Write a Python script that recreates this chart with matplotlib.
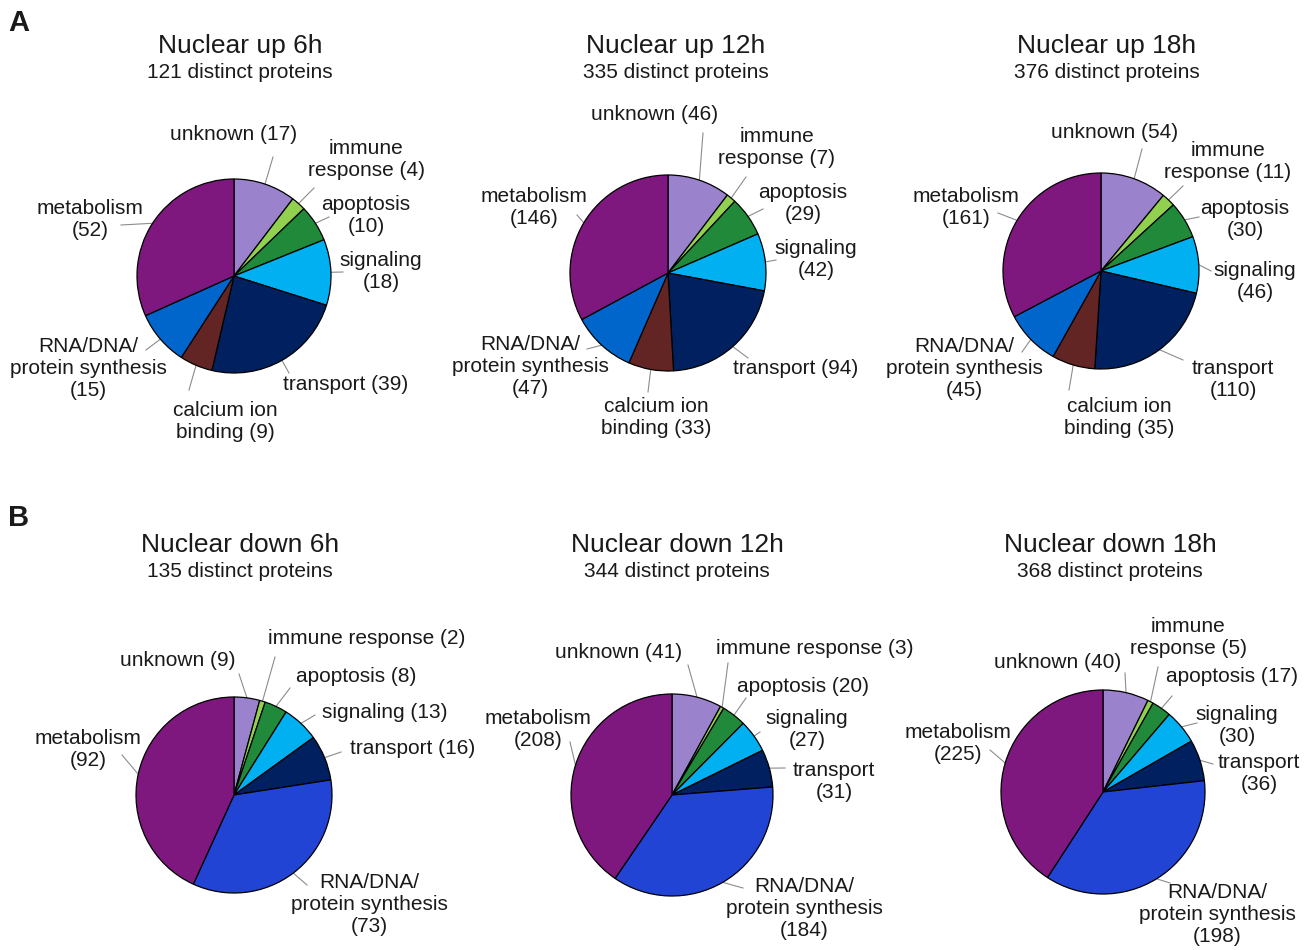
import numpy as np
import matplotlib
matplotlib.use("Agg")
import matplotlib.pyplot as plt

plt.rcParams['font.family'] = ['Liberation Sans', 'DejaVu Sans']

W, H = 1311, 950

# category colours
C_UNKNOWN = '#9b82cc'
C_IMMUNE = '#92d050'
C_APOP = '#218a3a'
C_SIGNAL = '#00b0f0'
C_TRANSPORT = '#002060'
C_CALCIUM = '#632424'
C_RNA_UP = '#0066cc'
C_RNA_DOWN = '#2244d4'
C_METAB = '#7e177e'

colors_up = [C_UNKNOWN, C_IMMUNE, C_APOP, C_SIGNAL, C_TRANSPORT, C_CALCIUM, C_RNA_UP, C_METAB]
colors_down = [C_UNKNOWN, C_IMMUNE, C_APOP, C_SIGNAL, C_TRANSPORT, C_RNA_DOWN, C_METAB]

# protein counts per functional category
up_6h = [17, 4, 10, 18, 39, 9, 15, 52]
up_12h = [46, 7, 29, 42, 94, 33, 47, 146]
up_18h = [54, 11, 30, 46, 110, 35, 45, 161]
down_6h = [9, 2, 8, 13, 16, 73, 92]
down_12h = [41, 3, 20, 27, 31, 184, 208]
down_18h = [40, 5, 17, 30, 36, 198, 225]

n_up = [121, 335, 376]
n_down = [135, 344, 368]
hours = ['6h', '12h', '18h']

# label text, one template per slice
lab_up_6h = ['unknown ({})', 'immune\nresponse ({})', 'apoptosis\n({})', 'signaling\n({})',
             'transport ({})', 'calcium ion\nbinding ({})', 'RNA/DNA/\nprotein synthesis\n({})',
             'metabolism\n({})']
lab_up_12h = ['unknown ({})', 'immune\nresponse ({})', 'apoptosis\n({})', 'signaling\n({})',
              'transport ({})', 'calcium ion\nbinding ({})', 'RNA/DNA/\nprotein synthesis\n({})',
              'metabolism\n({})']
lab_up_18h = ['unknown ({})', 'immune\nresponse ({})', 'apoptosis\n({})', 'signaling\n({})',
              'transport\n({})', 'calcium ion\nbinding ({})', 'RNA/DNA/\nprotein synthesis\n({})',
              'metabolism\n({})']
lab_down_6h = ['unknown ({})', 'immune response ({})', 'apoptosis ({})', 'signaling ({})',
               'transport ({})', 'RNA/DNA/\nprotein synthesis\n({})', 'metabolism\n({})']
lab_down_12h = ['unknown ({})', 'immune response ({})', 'apoptosis ({})', 'signaling\n({})',
                'transport\n({})', 'RNA/DNA/\nprotein synthesis\n({})', 'metabolism\n({})']
lab_down_18h = ['unknown ({})', 'immune\nresponse ({})', 'apoptosis ({})', 'signaling\n({})',
                'transport\n({})', 'RNA/DNA/\nprotein synthesis\n({})', 'metabolism\n({})']

# layout in pixels (y measured from top): pie centre, radius, label centres, leader ends
pies = [
    dict(vals=up_6h, cols=colors_up, labs=lab_up_6h, c=(234, 276), r=97,
         txt=[(234, 134), (366, 159), (366, 216), (381, 272), (346, 385), (225, 421), (88, 369), (90, 220)],
         end=[(273, 157), (314, 188), (329, 217), (343, 272), (289, 373), (189, 390), (146, 350), (121, 225)]),
    dict(vals=up_12h, cols=colors_up, labs=lab_up_12h, c=(668, 273), r=98,
         txt=[(655, 115), (777, 147), (803, 204), (816, 260), (796, 368), (656, 418), (530, 366), (534, 208)],
         end=[(703, 133), (746, 177), (763, 209), (776, 260), (748, 358), (648, 392), (587, 349), (577, 215)]),
    dict(vals=up_18h, cols=colors_up, labs=lab_up_18h, c=(1101, 271), r=98,
         txt=[(1115, 132), (1228, 161), (1245, 219), (1255, 281), (1233, 379), (1119, 418), (964, 369), (966, 208)],
         end=[(1142, 149), (1183, 186), (1199, 217), (1211, 271), (1183, 360), (1069, 390), (1022, 352), (998, 213)]),
    dict(vals=down_6h, cols=colors_down, labs=lab_down_6h, c=(234, 795), r=98,
         txt=[(178, 660), (367, 639), (356, 677), (385, 713), (413, 749), (369, 904), (88, 750)],
         end=[(239, 674), (275, 657), (290, 688), (315, 715), (341, 752), (307, 885), (122, 755)]),
    dict(vals=down_12h, cols=colors_down, labs=lab_down_12h, c=(672, 795), r=101,
         txt=[(619, 653), (815, 648), (803, 686), (807, 730), (834, 781), (804, 908), (538, 730)],
         end=[(688, 665), (728, 663), (746, 698), (760, 732), (785, 768), (743, 888), (570, 742)]),
    dict(vals=down_18h, cols=colors_down, labs=lab_down_18h, c=(1103, 792), r=102,
         txt=[(1058, 662), (1188, 637), (1232, 677), (1237, 725), (1259, 773), (1217, 914), (958, 743)],
         end=[(1125, 673), (1158, 667), (1172, 696), (1197, 723), (1213, 764), (1170, 883), (990, 750)]),
]

title_x_up = [240, 676, 1107]
title_x_down = [240, 677, 1110]

fig = plt.figure(figsize=(W / 100, H / 100), dpi=100)
ax = fig.add_axes([0, 0, 1, 1])

TXT = '#1a1a1a'
LINE = '#8c8c8c'

for p in pies:
    cx, cy = p['c'][0], H - p['c'][1]
    wedges, _ = ax.pie(p['vals'], colors=p['cols'], startangle=90, counterclock=False,
                       center=(cx, cy), radius=p['r'],
                       wedgeprops=dict(edgecolor='black', linewidth=0.9))
    for w, lab, v, (tx, ty), (ex, ey) in zip(wedges, p['labs'], p['vals'], p['txt'], p['end']):
        mid = np.deg2rad((w.theta1 + w.theta2) / 2)
        sx = cx + p['r'] * np.cos(mid)
        sy = cy + p['r'] * np.sin(mid)
        ax.plot([sx, ex], [sy, H - ey], color=LINE, lw=0.8, zorder=0.5)
        ax.text(tx, H - ty, lab.format(v), ha='center', va='center', ma='center',
                fontsize=15, color=TXT)

for i in range(3):
    ax.text(title_x_up[i], H - 53, f'Nuclear up {hours[i]}', ha='center', va='baseline',
            fontsize=19, color=TXT)
    ax.text(title_x_up[i], H - 78, f'{n_up[i]} distinct proteins', ha='center', va='baseline',
            fontsize=15, color=TXT)
    ax.text(title_x_down[i], H - 552, f'Nuclear down {hours[i]}', ha='center', va='baseline',
            fontsize=19, color=TXT)
    ax.text(title_x_down[i], H - 577, f'{n_down[i]} distinct proteins', ha='center', va='baseline',
            fontsize=15, color=TXT)

ax.text(8, H - 31, 'A', fontsize=21, fontweight='bold', va='baseline', color=TXT)
ax.text(8, H - 526, 'B', fontsize=21, fontweight='bold', va='baseline', color=TXT)

ax.set_xlim(0, W)
ax.set_ylim(0, H)
ax.set_aspect('equal')
ax.axis('off')

fig.savefig('out.png', dpi=100, facecolor='white')
